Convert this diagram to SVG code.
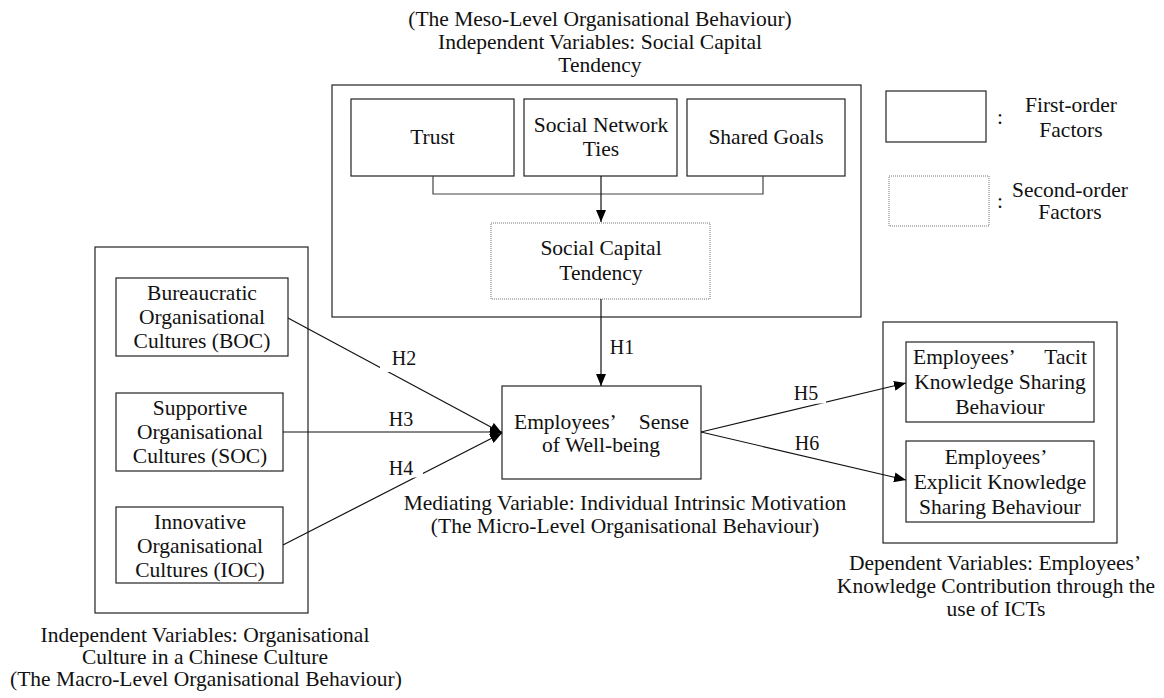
<svg xmlns="http://www.w3.org/2000/svg" width="1164" height="698" viewBox="0 0 1164 698">
<style>
.box{fill:#fff;stroke:#222;stroke-width:1.2}
.dot{fill:#fff;stroke:#777;stroke-width:1;stroke-dasharray:1 1}
text{font-family:"Liberation Serif","Times New Roman",serif;font-size:21.5px;fill:#111}
.c{text-anchor:middle}
.e{text-anchor:end}
.h{font-size:20px}
.ln{stroke:#111;stroke-width:1.2;fill:none}
.gl{stroke:#444;stroke-width:1.2;fill:none}
</style>
<defs>
<marker id="ah" markerWidth="12" markerHeight="10" refX="12" refY="5" orient="auto" markerUnits="userSpaceOnUse">
<path d="M0,0 L12,5 L0,10 z" fill="#000"/>
</marker>
</defs>
<rect width="1164" height="698" fill="#fff"/>

<g id="meso-group">
<rect class="box" x="332" y="85" width="529" height="232"/>
<text class="c" x="600" y="26">(The Meso-Level Organisational Behaviour)</text>
<text class="c" x="600" y="49">Independent Variables: Social Capital</text>
<text class="c" x="600" y="72">Tendency</text>
</g>
<g id="trust"><rect class="box" x="351" y="99" width="163" height="77"/><text class="c" x="432.5" y="144">Trust</text></g>
<g id="ties"><rect class="box" x="524" y="99" width="153" height="77"/><text class="c" x="601" y="132">Social Network</text><text class="c" x="601" y="156">Ties</text></g>
<g id="goals"><rect class="box" x="687" y="99" width="158" height="77"/><text class="c" x="766" y="144">Shared Goals</text></g>
<g id="sct"><rect class="dot" x="491" y="223" width="219" height="76"/><text class="c" x="601" y="255">Social Capital</text><text class="c" x="601" y="280">Tendency</text></g>

<g id="legend">
<rect class="box" x="886" y="91" width="100" height="51"/>
<text x="997" y="124">:</text>
<text class="c" x="1071" y="112">First-order</text>
<text class="c" x="1071" y="137">Factors</text>
<rect class="dot" x="889" y="176" width="100" height="50"/>
<text x="997" y="208">:</text>
<text class="c" x="1070" y="197">Second-order</text>
<text class="c" x="1070" y="219">Factors</text>
</g>

<g id="macro-group">
<rect class="box" x="95" y="247" width="213" height="366"/>
<text class="c" x="205" y="642">Independent Variables: Organisational</text>
<text class="c" x="205" y="664">Culture in a Chinese Culture</text>
<text class="c" x="206" y="686">(The Macro-Level Organisational Behaviour)</text>
</g>
<g id="boc"><rect class="box" x="116" y="278" width="172" height="78"/><text class="c" x="202" y="300">Bureaucratic</text><text class="c" x="202" y="324">Organisational</text><text class="c" x="202" y="348">Cultures (BOC)</text></g>
<g id="soc"><rect class="box" x="116" y="393" width="167" height="78"/><text class="c" x="200" y="415">Supportive</text><text class="c" x="200" y="439">Organisational</text><text class="c" x="200" y="463">Cultures (SOC)</text></g>
<g id="ioc"><rect class="box" x="116" y="507" width="167" height="76"/><text class="c" x="200" y="529">Innovative</text><text class="c" x="200" y="553">Organisational</text><text class="c" x="200" y="577">Cultures (IOC)</text></g>

<g id="wellbeing">
<rect class="box" x="502" y="386" width="199" height="93"/>
<text x="514" y="429">Employees’</text><text class="e" x="689" y="429">Sense</text>
<text class="c" x="601" y="452">of Well-being</text>
<text class="c" x="625" y="510">Mediating Variable: Individual Intrinsic Motivation</text>
<text class="c" x="625" y="533">(The Micro-Level Organisational Behaviour)</text>
</g>

<g id="dependent-group">
<rect class="box" x="883" y="322" width="234" height="221"/>
<text class="c" x="995" y="570">Dependent Variables: Employees’</text>
<text class="c" x="996" y="593">Knowledge Contribution through the</text>
<text class="c" x="996" y="616">use of ICTs</text>
</g>
<g id="tacit"><rect class="box" x="906" y="342" width="188" height="80"/>
<text x="913" y="364">Employees’</text><text class="e" x="1087" y="364">Tacit</text>
<text class="c" x="1000" y="389">Knowledge Sharing</text>
<text class="c" x="1000" y="414">Behaviour</text></g>
<g id="explicit"><rect class="box" x="906" y="441" width="188" height="81"/>
<text class="c" x="996" y="464">Employees’</text>
<text class="c" x="1000" y="489">Explicit Knowledge</text>
<text class="c" x="1000" y="514">Sharing Behaviour</text></g>

<g id="connectors">
<path class="gl" d="M433,176 V194 H763 V176"/>
<path class="ln" d="M601,176 V222" marker-end="url(#ah)"/>
<path class="ln" d="M601,299 V386" marker-end="url(#ah)"/>
<path class="ln" d="M288,318 L502,433" marker-end="url(#ah)"/>
<path class="ln" d="M283,432 L502,432" marker-end="url(#ah)"/>
<path class="ln" d="M283,545 L502,433" marker-end="url(#ah)"/>
<path class="ln" d="M701,432 L906,383" marker-end="url(#ah)"/>
<path class="ln" d="M701,432 L906,480" marker-end="url(#ah)"/>
<rect x="380" y="345" width="40" height="27" fill="#fff"/>
<rect x="385" y="455" width="38" height="22.5" fill="#fff"/>
<rect x="790" y="382" width="36" height="21.5" fill="#fff"/>
<text class="c h" x="622" y="354">H1</text>
<text class="c h" x="404" y="365">H2</text>
<text class="c h" x="401" y="426">H3</text>
<text class="c h" x="401" y="475">H4</text>
<text class="c h" x="806" y="400">H5</text>
<text class="c h" x="807" y="450">H6</text>
</g>
</svg>
